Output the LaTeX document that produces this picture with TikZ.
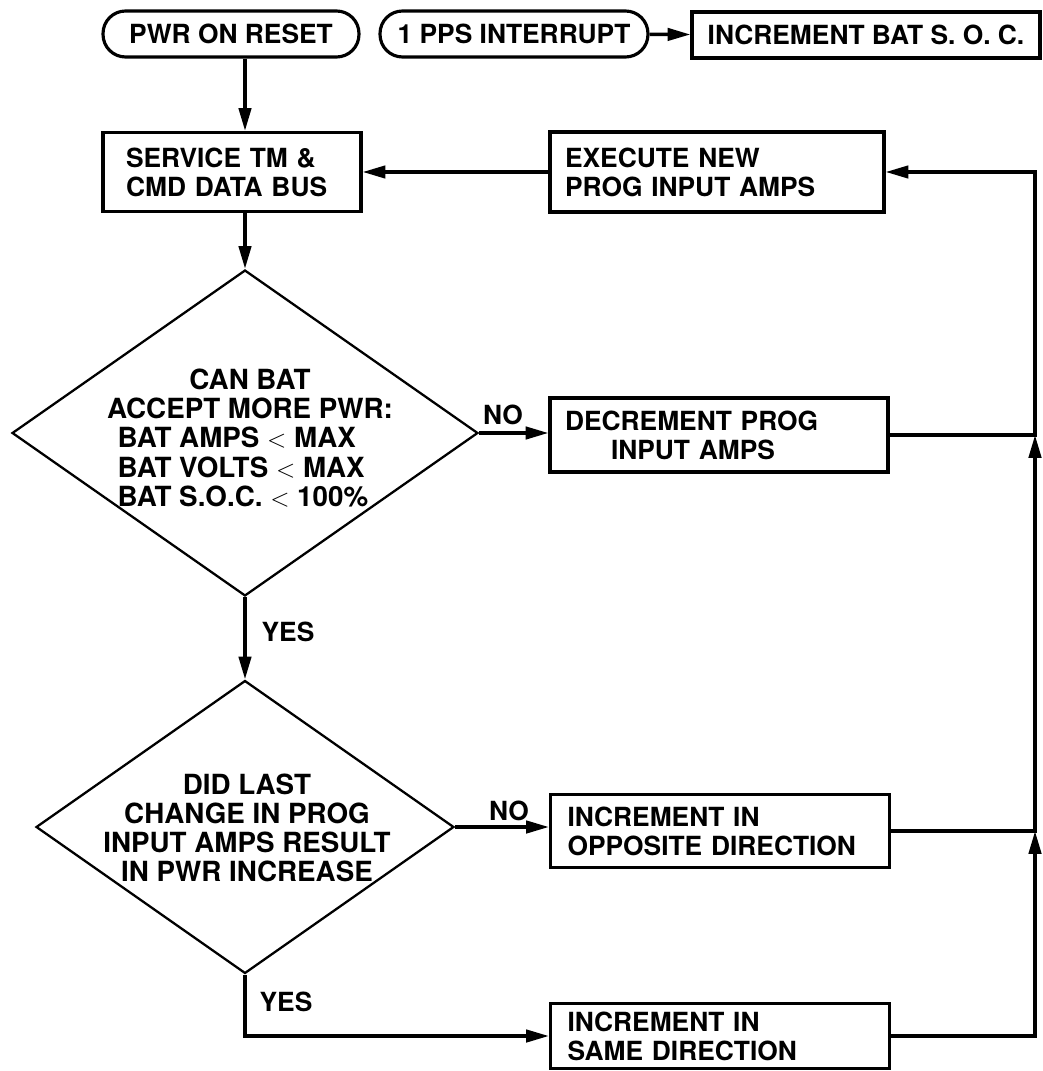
\documentclass[tikz,border=0pt]{standalone}
\usepackage{fontspec}
\setmainfont{TeX Gyre Heros}
\usetikzlibrary{arrows.meta, positioning, shapes.geometric}

\begin{document}
\begin{tikzpicture}[x=0.02cm, y=-0.02cm,
  >={Triangle[length=13pt, width=7pt]},
  txt/.style={font=\bfseries\fontsize{15}{16.5}\selectfont},
  bigtxt/.style={font=\bfseries\fontsize{15.8}{16.6}\selectfont},
  pill/.style={txt, draw, line width=1.8pt, rounded corners=0.45cm,
               minimum height=0.92cm, inner sep=0pt},
  procbox/.style={txt, draw, line width=1.8pt, align=left,
                  inner xsep=0.3cm, inner ysep=0pt},
  decision/.style={draw, diamond, line width=1.3pt, inner sep=0pt},
  flow/.style={line width=2pt, ->}]
  \useasboundingbox (0,0) rectangle (1042,1071);

  % Top row
  \node[pill, minimum width=5.12cm] (reset) at (231,34) {PWR ON RESET};
  \node[pill, minimum width=5.36cm] (pps) at (514,34) {1 PPS INTERRUPT};
  \node[procbox, inner xsep=0.1cm, minimum width=6.96cm, minimum height=0.92cm]
    (soc) at (866,35) {INCREMENT BAT S. O. C.};

  % Main loop boxes
  \node[procbox, inner xsep=0.46cm, text width=4.24cm, minimum height=1.58cm]
    (service) at (232,172) {SERVICE TM \&\\CMD DATA BUS};
  \node[procbox, text width=6.08cm, minimum height=1.6cm]
    (execute) at (717,172) {EXECUTE NEW\\PROG INPUT AMPS};

  % Decisions
  \node[decision, minimum width=9.32cm, minimum height=6.52cm] (d1) at (245,433) {};
  \node[bigtxt, align=center] (d1txt) at (250,438)
    {CAN BAT\\ACCEPT MORE PWR:\\
     \makebox[5.3cm][l]{BAT AMPS $<$ MAX}\\
     \makebox[5.3cm][l]{BAT VOLTS $<$ MAX}\\
     \makebox[5.3cm][l]{BAT S.O.C. $<$ 100\%}};
  \node[decision, minimum width=8.36cm, minimum height=5.86cm] (d2) at (245,827) {};
  \node[bigtxt, align=center] (d2txt) at (247,828)
    {DID LAST\\CHANGE IN PROG\\INPUT AMPS RESULT\\IN PWR INCREASE};

  % Right column
  \node[procbox, text width=6.16cm, minimum height=1.48cm]
    (dec) at (719,435) {DECREMENT PROG\\\hspace*{0.92cm}INPUT AMPS};
  \node[procbox, inner xsep=0.34cm, text width=6.1cm, minimum height=1.46cm]
    (opp) at (720,831) {INCREMENT IN\\OPPOSITE DIRECTION};
  \node[procbox, inner xsep=0.34cm, text width=6.1cm, minimum height=1.3cm]
    (same) at (720,1036) {INCREMENT IN\\SAME DIRECTION};

  % Labels
  \node[txt] (no1) at (503,415) {NO};
  \node[txt] (yes1) at (288,632) {YES};
  \node[txt] (no2) at (509,811) {NO};
  \node[txt] (yes2) at (286,1002) {YES};

  \coordinate (rail) at (1035,0);

  % Connectors
  \draw[flow] (pps) -- (soc);
  \draw[flow] (reset.south -| d1.north) -- (service.north -| d1.north);
  \draw[flow] (execute) -- (service);
  \draw[flow] (service.south -| d1.north) -- (d1.north);
  \draw[flow] (d1.east) -- (d1.east -| dec.west);
  \draw[flow] (d1.south) -- (d2.north);
  \draw[flow] (d2.east) -- (d2.east -| opp.west);
  \draw[flow] (d2.south) |- (same.west);

  % Feedback rail
  \draw[flow] (same.east) -- (same.east -| rail) -- (opp.east -| rail);
  \draw[flow] (opp.east) -- (opp.east -| rail) -- (dec.east -| rail);
  \draw[flow] (dec.east) -- (dec.east -| rail) |- (execute.east);
\end{tikzpicture}
\end{document}
